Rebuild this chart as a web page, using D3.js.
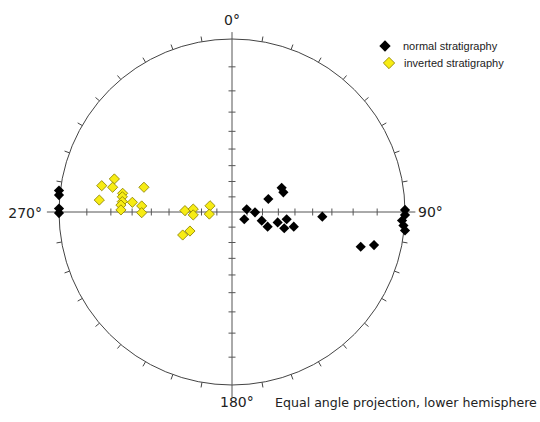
<!DOCTYPE html>
<html>
<head>
<meta charset="utf-8">
<script src="https://cdn.jsdelivr.net/npm/d3@7"></script>
<style>
  body { margin: 0; background: #fff; }
  svg { display: block; }
</style>
</head>
<body>
<svg></svg>
<script>
// Stereonet, equal angle projection (lower hemisphere).

const normalX = [0.085, 0.071, 0.133, 0.172, 0.206, 0.210, 0.287, 0.297, 0.264, 0.316, 0.302, 0.357,
  0.522, 0.744, 0.821, 1.0, 1.0, 0.983, 0.991, 1.0, -1.0, -1.0, -1.0, -1.0];
const normalY = [0.016, -0.042, -0.002, -0.050, -0.085, 0.075, 0.140, 0.114, -0.060, -0.042, -0.094, -0.085,
  -0.027, -0.201, -0.191, 0.012, -0.017, -0.049, -0.078, -0.107, 0.124, 0.098, 0.020, -0.006];

const invertedX = [-0.753, -0.680, -0.690, -0.767, -0.632, -0.634, -0.634, -0.642, -0.642, -0.576,
  -0.509, -0.522, -0.522, -0.272, -0.224, -0.224, -0.127, -0.131, -0.285, -0.243];
const invertedY = [0.152, 0.191, 0.143, 0.069, 0.108, 0.088, 0.060, 0.040, 0.012, 0.056,
  0.143, 0.035, -0.004, 0.008, 0.017, -0.017, 0.036, -0.012, -0.133, -0.110];

const dipTicks = [10, 20, 30, 40, 50, 60, 70, 80];
const azimuthTicks = d3.range(0, 360, 10);
const cardinalLabels = ["0°", "90°", "180°", "270°"];
const seriesNames = ["normal stratigraphy", "inverted stratigraphy"];

const width = 540;
const height = 422;
const cx = 232;
const cy = 212;
const radius = 173;

const svg = d3.select("svg").attr("width", width).attr("height", height);

const xScale = d3.scaleLinear().domain([-1, 1]).range([cx - radius, cx + radius]);
const yScale = d3.scaleLinear().domain([-1, 1]).range([cy + radius, cy - radius]);

// primitive circle
svg.append("circle")
  .attr("cx", xScale(0))
  .attr("cy", yScale(0))
  .attr("r", xScale(1) - xScale(0))
  .attr("fill", "none")
  .attr("stroke", "#444")
  .attr("stroke-width", 1);

// azimuth ticks on the circle, pointing outward
svg.append("g")
  .selectAll("line")
  .data(azimuthTicks.filter((a) => a % 90 !== 0))
  .enter()
  .append("line")
  .attr("x1", (a) => xScale(Math.sin(a * Math.PI / 180)))
  .attr("y1", (a) => yScale(Math.cos(a * Math.PI / 180)))
  .attr("x2", (a) => xScale(1.03 * Math.sin(a * Math.PI / 180)))
  .attr("y2", (a) => yScale(1.03 * Math.cos(a * Math.PI / 180)))
  .attr("stroke", "#444")
  .attr("stroke-width", 1);

// cross
const axes = svg.append("g").attr("stroke", "#555").attr("stroke-width", 1);
axes.append("line")
  .attr("x1", xScale(-1.07)).attr("x2", xScale(1.06))
  .attr("y1", yScale(0)).attr("y2", yScale(0));
axes.append("line")
  .attr("x1", xScale(0)).attr("x2", xScale(0))
  .attr("y1", yScale(1.04)).attr("y2", yScale(-1.07));

// dip ticks along the cross (equal angle: r = tan(theta / 2))
const tickR = [];
dipTicks.forEach((t) => {
  const r = Math.tan((t / 2) * Math.PI / 180);
  tickR.push(r, -r);
});

axes.selectAll(".htick")
  .data(tickR)
  .enter()
  .append("line")
  .attr("class", "htick")
  .attr("x1", (r) => xScale(r)).attr("x2", (r) => xScale(r))
  .attr("y1", yScale(0) - 3.5).attr("y2", yScale(0) + 3.5);

axes.selectAll(".vtick")
  .data(tickR)
  .enter()
  .append("line")
  .attr("class", "vtick")
  .attr("y1", (r) => yScale(r)).attr("y2", (r) => yScale(r))
  .attr("x1", xScale(0) - 3.5).attr("x2", xScale(0) + 3.5);

// points
const diamond = d3.symbol().type(d3.symbolSquare).size(52);

const normal = normalX.map((x, i) => ({ x: x, y: normalY[i] }));
const inverted = invertedX.map((x, i) => ({ x: x, y: invertedY[i] }));

svg.append("g")
  .selectAll("path")
  .data(inverted)
  .enter()
  .append("path")
  .attr("d", diamond)
  .attr("transform", (d) => `translate(${xScale(d.x)},${yScale(d.y)}) rotate(45)`)
  .attr("fill", "#f7ec14")
  .attr("stroke", "#8c8200")
  .attr("stroke-width", 0.8);

svg.append("g")
  .selectAll("path")
  .data(normal)
  .enter()
  .append("path")
  .attr("d", diamond)
  .attr("transform", (d) => `translate(${xScale(d.x)},${yScale(d.y)}) rotate(45)`)
  .attr("fill", "#000");

// labels
const labelFont = "'DejaVu Sans', Verdana, sans-serif";
const labels = svg.append("g")
  .attr("font-family", labelFont)
  .attr("font-size", 14)
  .attr("fill", "#222");

labels.append("text").attr("x", xScale(0)).attr("y", 25)
  .attr("text-anchor", "middle").text(cardinalLabels[0]);
labels.append("text").attr("x", 418).attr("y", 217).text(cardinalLabels[1]);
labels.append("text").attr("x", 220).attr("y", 407).text(cardinalLabels[2]);
labels.append("text").attr("x", 42).attr("y", 218)
  .attr("text-anchor", "end").text(cardinalLabels[3]);

svg.append("text")
  .attr("x", 275)
  .attr("y", 407)
  .attr("font-family", labelFont)
  .attr("font-size", 12.6)
  .attr("fill", "#222")
  .text("Equal angle projection, lower hemisphere");

// legend
const legendDiamond = d3.symbol().type(d3.symbolSquare).size(64);
const legend = svg.append("g");

legend.append("path")
  .attr("d", legendDiamond)
  .attr("transform", "translate(385,46) rotate(45)")
  .attr("fill", "#000");
legend.append("path")
  .attr("d", legendDiamond)
  .attr("transform", "translate(389,63) rotate(45)")
  .attr("fill", "#f7ec14")
  .attr("stroke", "#8c8200")
  .attr("stroke-width", 0.8);

legend.selectAll("text")
  .data(seriesNames)
  .enter()
  .append("text")
  .attr("x", (d, i) => (i === 0 ? 403 : 404))
  .attr("y", (d, i) => (i === 0 ? 50 : 67))
  .attr("font-family", "'Liberation Sans', Arial, sans-serif")
  .attr("font-size", 11)
  .attr("fill", "#222")
  .text((d) => d);
</script>
</body>
</html>
